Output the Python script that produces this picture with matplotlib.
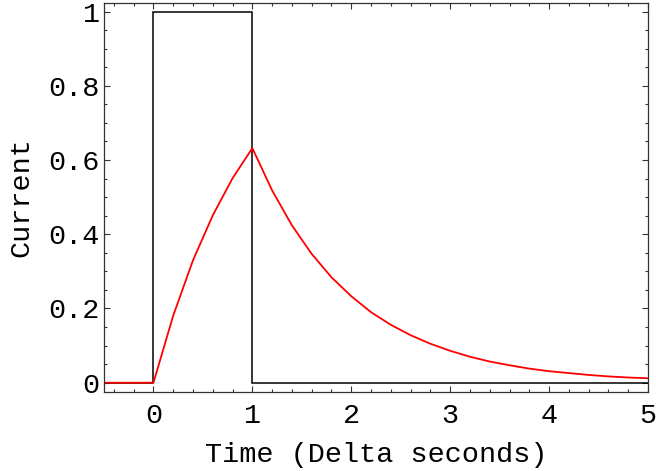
import matplotlib
matplotlib.use("Agg")
import matplotlib.pyplot as plt
from matplotlib.ticker import MultipleLocator, FixedLocator

# Data
pulse_t = [-0.5, 0.0, 0.0, 1.0, 1.0, 5.0]
pulse_i = [0.0, 0.0, 1.0, 1.0, 0.0, 0.0]

resp_t = [-0.5, 0.0, 0.2, 0.4, 0.6, 0.8, 1.0, 1.2, 1.4, 1.6, 1.8, 2.0, 2.2, 2.4,
          2.6, 2.8, 3.0, 3.2, 3.4, 3.6, 3.8, 4.0, 4.2, 4.4, 4.6, 4.8, 5.0]
resp_i = [0.0, 0.0, 0.181, 0.330, 0.451, 0.551, 0.632, 0.518, 0.424, 0.347,
          0.284, 0.233, 0.190, 0.156, 0.128, 0.105, 0.086, 0.070, 0.057, 0.047,
          0.038, 0.031, 0.026, 0.021, 0.017, 0.014, 0.012]

x_ticks = [0, 1, 2, 3, 4, 5]
x_labels = ["0", "1", "2", "3", "4", "5"]
y_ticks = [0, 0.2, 0.4, 0.6, 0.8, 1.0]
y_labels = ["0", "0.2", "0.4", "0.6", "0.8", "1"]

plt.rcParams['font.family'] = ['Liberation Mono', 'DejaVu Sans Mono']
fs = 20.5

fig = plt.figure(figsize=(6.56, 4.71), dpi=100)
ax = fig.add_axes([104/656, 79/471, 544/656, 389/471])

ax.plot(pulse_t, pulse_i, color='black', lw=1.1, solid_joinstyle='miter')
ax.plot(resp_t, resp_i, color='#ff0000', lw=1.3)

ax.set_xlim(-0.5, 5.0)
ax.set_ylim(-0.025, 1.023)

ax.xaxis.set_major_locator(FixedLocator(x_ticks))
ax.set_xticklabels(x_labels)
ax.xaxis.set_minor_locator(MultipleLocator(0.2))
ax.yaxis.set_major_locator(FixedLocator(y_ticks))
ax.set_yticklabels(y_labels)
ax.yaxis.set_minor_locator(MultipleLocator(0.05))

ax.tick_params(which='both', direction='in', top=True, right=True, color='#333333', width=0.8)
ax.tick_params(which='major', length=4.5, labelsize=fs)
ax.tick_params(which='minor', length=2.3)
ax.tick_params(axis='x', which='major', pad=8)
ax.tick_params(axis='y', which='major', pad=3)
ax.tick_params(top=True, labeltop=False, right=True, labelright=False)

for s in ax.spines.values():
    s.set_linewidth(0.9)
    s.set_color('#333333')

ax.set_xlabel("Time (Delta seconds)", fontsize=fs, labelpad=9)
ax.set_ylabel("Current", fontsize=fs, labelpad=10)

fig.savefig("out.png", dpi=100)
